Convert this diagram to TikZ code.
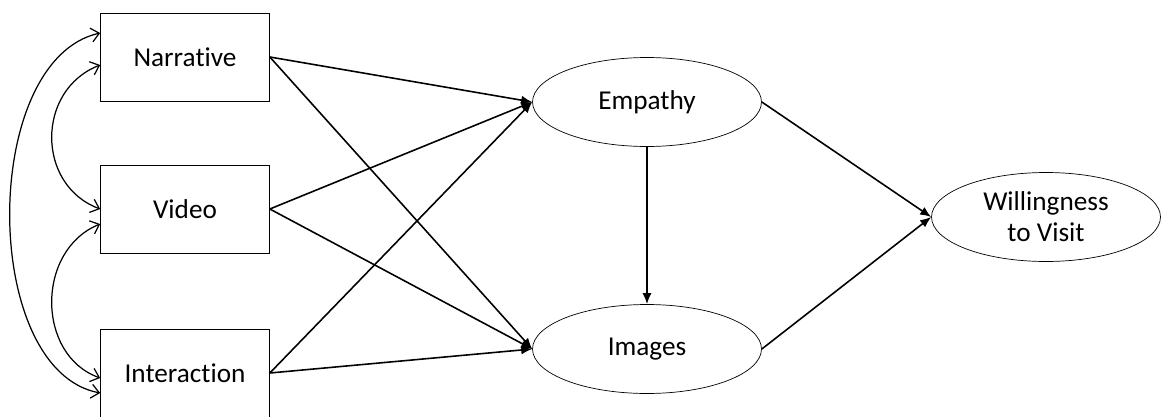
\documentclass[tikz,border=0pt]{standalone}
\usepackage{fontspec}
\setmainfont{Carlito}[RawFeature=-liga]
\usetikzlibrary{shapes.geometric,arrows.meta}

\begin{document}
\begin{tikzpicture}[x=0.02cm, y=-0.02cm,
    obs/.style={draw, rectangle, minimum width=3.38cm, minimum height=1.76cm, inner sep=0pt},
    lat/.style={draw, ellipse, minimum width=4.58cm, minimum height=1.78cm, inner sep=0pt, align=center},
    path/.style={-{Latex[length=2.2mm,width=1.8mm]}, line width=0.9pt},
    cov/.style={{Straight Barb[length=1.6mm,width=2.8mm]}-{Straight Barb[length=1.6mm,width=2.8mm]}, line width=0.7pt},
    font=\fontsize{15.5}{17.5}\selectfont]
    \useasboundingbox (0,0) rectangle (1162,416);

    % Draw the observed variables
    \node[obs] (nar) at (185,57) {Narrative};
    \node[obs] (vid) at (185,209) {Video};
    \node[obs] (int) at (185,373) {Interaction};

    % Draw the latent variables
    \node[lat] (emp) at (647,102) {Empathy};
    \node[lat] (img) at (647,349) {Images};
    \node[lat] (wil) at (1046,217) {Willingness\\to Visit};

    % Add the paths
    \draw[path] (nar.east) -- (emp.west);
    \draw[path] (nar.east) -- (img.west);
    \draw[path] (vid.east) -- (emp.west);
    \draw[path] (vid.east) -- (img.west);
    \draw[path] (int.east) -- (emp.west);
    \draw[path] (int.east) -- (img.west);
    \draw[path] (emp.south) -- (img.north);
    \draw[path] (emp.east) -- (wil.west);
    \draw[path] (img.east) -- (wil.west);

    % Add the covariances on the left
    \draw[cov] ([yshift=0.48cm]nar.west) .. controls (-20,60) and (-20,370) .. ([yshift=-0.4cm]int.west);
    \draw[cov] ([yshift=-0.16cm]nar.west) .. controls (36,90) and (36,185) .. (vid.west);
    \draw[cov] ([yshift=-0.3cm]vid.west) .. controls (36,250) and (36,355) .. ([yshift=-0.1cm]int.west);
\end{tikzpicture}
\end{document}
